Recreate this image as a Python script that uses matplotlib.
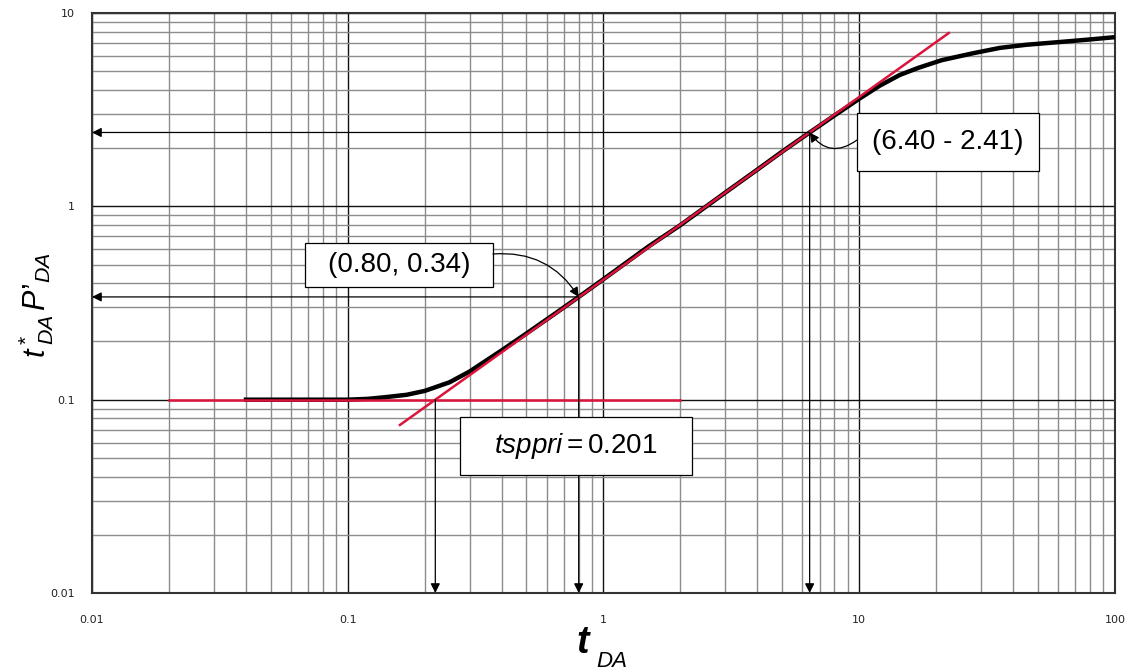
import matplotlib.pyplot as plt
from matplotlib.patches import Rectangle
from matplotlib.ticker import LogLocator, NullFormatter, FixedLocator

plt.rcParams['font.family'] = ['DejaVu Sans']
plt.rcParams['mathtext.fontset'] = 'custom'
plt.rcParams['mathtext.rm'] = 'Liberation Sans'
plt.rcParams['mathtext.it'] = 'Liberation Sans:italic'

# pressure-derivative curve
t_da = [0.04, 0.06, 0.08, 0.1, 0.12, 0.14, 0.17, 0.2, 0.25, 0.3, 0.4, 0.5,
        0.65, 0.8, 1.0, 1.5, 2.0, 3.0, 4.0, 5.0, 6.4, 8.0, 10.0, 12.0,
        14.4, 17.0, 21.0, 28.0, 35.5, 45.0, 61.0, 80.0, 100.0]
deriv = [0.1, 0.1, 0.1, 0.1, 0.101, 0.103, 0.106, 0.111, 0.123, 0.14, 0.18,
         0.22, 0.28, 0.34, 0.42, 0.62, 0.8, 1.18, 1.55, 1.92, 2.41, 2.95,
         3.6, 4.2, 4.78, 5.2, 5.7, 6.2, 6.6, 6.85, 7.08, 7.3, 7.5]

# straight-line fits
flat_t = [0.02, 2.0]
flat_y = [0.1, 0.1]
slope_t = [0.16, 22.4]
slope_y = [0.074, 7.88]

# picked points
t_pick = [0.8, 6.4]
y_pick = [0.34, 2.41]
t_sppri = 0.22
labels = ['(0.80, 0.34)', '(6.40 - 2.41)']

fig = plt.figure(figsize=(11.3, 6.7), dpi=100)
ax = fig.add_axes([0.0814, 0.1149, 0.9053, 0.8657])
ax.set_xscale('log')
ax.set_yscale('log')
ax.set_xlim(0.01, 100)
ax.set_ylim(0.01, 10)

ax.xaxis.set_major_locator(FixedLocator([0.01, 0.1, 1, 10, 100]))
ax.yaxis.set_major_locator(FixedLocator([0.01, 0.1, 1, 10]))
ax.set_xticklabels(['0.01', '0.1', '1', '10', '100'])
ax.set_yticklabels(['0.01', '0.1', '1', '10'])
ax.xaxis.set_minor_locator(LogLocator(base=10, subs=range(2, 10)))
ax.yaxis.set_minor_locator(LogLocator(base=10, subs=range(2, 10)))
ax.xaxis.set_minor_formatter(NullFormatter())
ax.yaxis.set_minor_formatter(NullFormatter())
ax.tick_params(which='both', length=0, labelsize=8, colors='#222222')
ax.tick_params(axis='x', pad=16)
ax.tick_params(axis='y', pad=12)

ax.grid(which='minor', color='#8c8c8c', lw=1.0)
ax.grid(which='major', color='#111111', lw=1.0)
ax.set_axisbelow(True)
for s in ax.spines.values():
    s.set_color('#333333')
    s.set_linewidth(1.5)

ax.plot(t_da, deriv, color='black', lw=3.2, zorder=3)
ax.plot(flat_t, flat_y, color='#dc143c', lw=1.8, zorder=4)
ax.plot(slope_t, slope_y, color='#dc143c', lw=1.8, zorder=4)

arr = dict(arrowstyle='-|>', color='black', lw=0.9, shrinkA=0, shrinkB=0,
           mutation_scale=14)
for tp, yp in zip(t_pick, y_pick):
    ax.annotate('', xy=(0.01, yp), xytext=(tp, yp), arrowprops=arr, zorder=5)
    ax.annotate('', xy=(tp, 0.01), xytext=(tp, yp), arrowprops=arr, zorder=5)
ax.annotate('', xy=(t_sppri, 0.01), xytext=(t_sppri, 0.1), arrowprops=arr, zorder=5)

# label boxes (axes fraction: x0, y0, w, h)
boxes = [(0.2082, 0.5276, 0.1838, 0.0759),
         (0.7478, 0.7276, 0.1779, 0.1),
         (0.3597, 0.2034, 0.2268, 0.1)]
texts = labels + [r'$\mathit{tsppri} = \mathrm{0.201}$']
for (x0, y0, w, h), txt in zip(boxes, texts):
    ax.add_patch(Rectangle((x0, y0), w, h, transform=ax.transAxes, fc='white',
                           ec='black', lw=0.9, zorder=6))
    ax.text(x0 + w / 2, y0 + h / 2, txt, transform=ax.transAxes, fontsize=20,
            family='Liberation Sans', ha='center', va='center', zorder=7)

# curved connectors from the boxes
ax.annotate('', xy=(t_pick[0], y_pick[0]), xytext=(0.392, 0.5845), xycoords='data',
            textcoords='axes fraction',
            arrowprops=dict(arrowstyle='-|>', color='black', lw=0.9, shrinkA=0,
                            shrinkB=0, mutation_scale=14,
                            connectionstyle='arc3,rad=-0.3'), zorder=6)
ax.annotate('', xy=(t_pick[1], y_pick[1]), xytext=(0.7478, 0.781), xycoords='data',
            textcoords='axes fraction',
            arrowprops=dict(arrowstyle='-|>', color='black', lw=0.9, shrinkA=0,
                            shrinkB=0, mutation_scale=14,
                            connectionstyle='arc3,rad=-0.5'), zorder=6)

fig.text(0.032, 0.545, r"$t\,^{*}_{DA}\,P’_{DA}$", rotation=90, fontsize=22,
         ha='center', va='center')
fig.text(0.516, 0.04, 't', fontsize=27, family='Liberation Sans', style='italic',
         weight='bold', ha='center', va='center')
fig.text(0.541, 0.013, 'DA', fontsize=16, family='Liberation Sans', style='italic',
         ha='center', va='center')

fig.savefig('out.png', dpi=100)
